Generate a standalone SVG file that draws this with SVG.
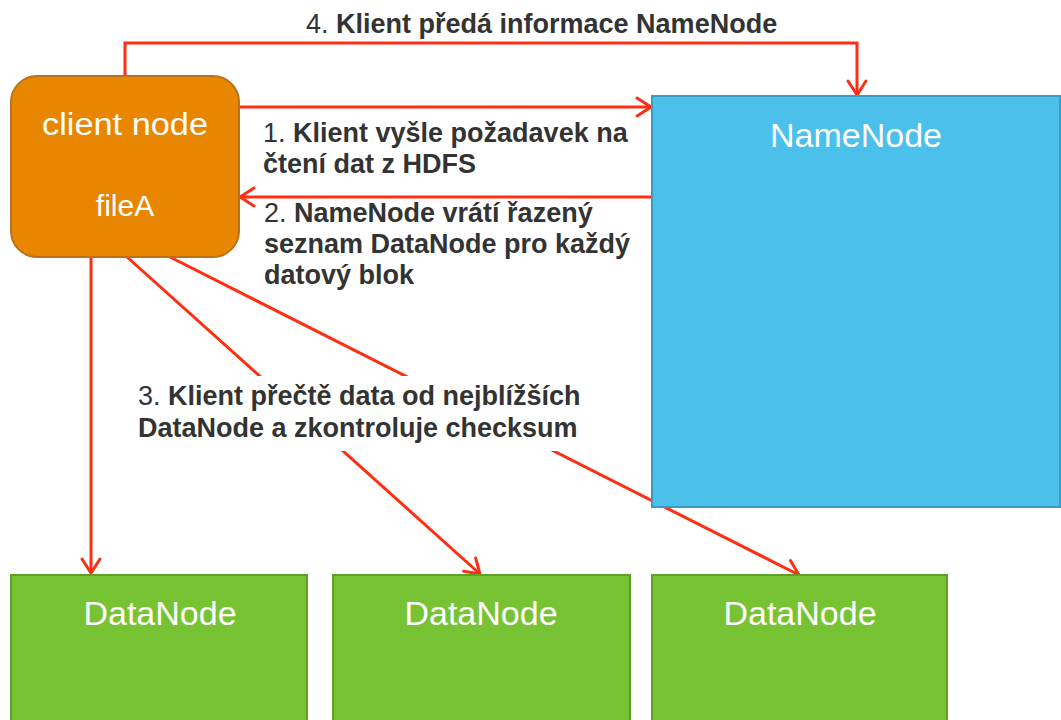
<svg xmlns="http://www.w3.org/2000/svg" width="1061" height="720" viewBox="0 0 1061 720">
  <style>
    .lbl { font-family: "Liberation Sans", Arial, sans-serif; font-size: 27px; fill: #333333; }
    .lbl .b { font-weight: bold; }
    .ntxt { font-family: "Liberation Sans", Arial, sans-serif; fill: #FFFFFF; text-anchor: middle; }
    .conn { fill: none; stroke: #FF2E12; stroke-width: 3; marker-end: url(#arrow); }
    .data rect { fill: #78C334; stroke: #5E9F2A; stroke-width: 2; }
  </style>
  <defs>
    <marker id="arrow" viewBox="0 0 18 22" refX="16" refY="11" markerWidth="18" markerHeight="22" markerUnits="userSpaceOnUse" orient="auto" overflow="visible">
      <path d="M2,2 L16,11 L2,20" fill="none" stroke="#FF2E12" stroke-width="3" stroke-linecap="round" stroke-linejoin="round"/>
    </marker>
  </defs>

  <rect width="1061" height="720" fill="#FFFFFF"/>

  <!-- connectors -->
  <g id="connectors">
    <path class="conn" d="M125,76 V43 H857 V95"/>
    <path class="conn" d="M239,107 H651"/>
    <path class="conn" d="M652,197 H240"/>
    <path class="conn" d="M91,257 V573"/>
    <path class="conn" d="M127,257 L480,574"/>
    <path class="conn" d="M170,257 L799,575"/>
  </g>

  <!-- step labels -->
  <g id="labels">
    <text class="lbl" x="306" y="33">4. <tspan class="b">Klient předá informace NameNode</tspan></text>
    <text class="lbl" x="263" y="142">1. <tspan class="b">Klient vyšle požadavek na</tspan></text>
    <text class="lbl b" x="263" y="173" font-weight="bold">čtení dat z HDFS</text>
    <text class="lbl" x="264" y="222">2. <tspan class="b">NameNode vrátí řazený</tspan></text>
    <text class="lbl" x="264" y="253" font-weight="bold">seznam DataNode pro každý</text>
    <text class="lbl" x="264" y="284" font-weight="bold">datový blok</text>
    <rect x="132" y="376" width="465" height="75" fill="#FFFFFF"/>
    <text class="lbl" x="138" y="405">3. <tspan class="b">Klient přečtě data od nejblížších</tspan></text>
    <text class="lbl" x="138" y="437" font-weight="bold">DataNode a zkontroluje checksum</text>
  </g>

  <!-- client node -->
  <g id="client-node">
    <rect x="11" y="76" width="228" height="181" rx="26" ry="26" fill="#E88600" stroke="#B9721A" stroke-width="2"/>
    <text class="ntxt" x="125" y="135" font-size="31" textLength="166" lengthAdjust="spacingAndGlyphs">client node</text>
    <text class="ntxt" x="125" y="216" font-size="30">fileA</text>
  </g>

  <!-- NameNode -->
  <g id="namenode">
    <rect x="652" y="96" width="408" height="411" fill="#4AC0EA" stroke="#3A9CC3" stroke-width="2"/>
    <text class="ntxt" x="856" y="147" font-size="34">NameNode</text>
  </g>

  <!-- DataNodes -->
  <g id="datanode-1" class="data">
    <rect x="11" y="575" width="296" height="160"/>
    <text class="ntxt" x="160" y="625" font-size="34">DataNode</text>
  </g>
  <g id="datanode-2" class="data">
    <rect x="333" y="575" width="297" height="160"/>
    <text class="ntxt" x="481" y="625" font-size="34">DataNode</text>
  </g>
  <g id="datanode-3" class="data">
    <rect x="652" y="575" width="295" height="160"/>
    <text class="ntxt" x="800" y="625" font-size="34">DataNode</text>
  </g>
</svg>
